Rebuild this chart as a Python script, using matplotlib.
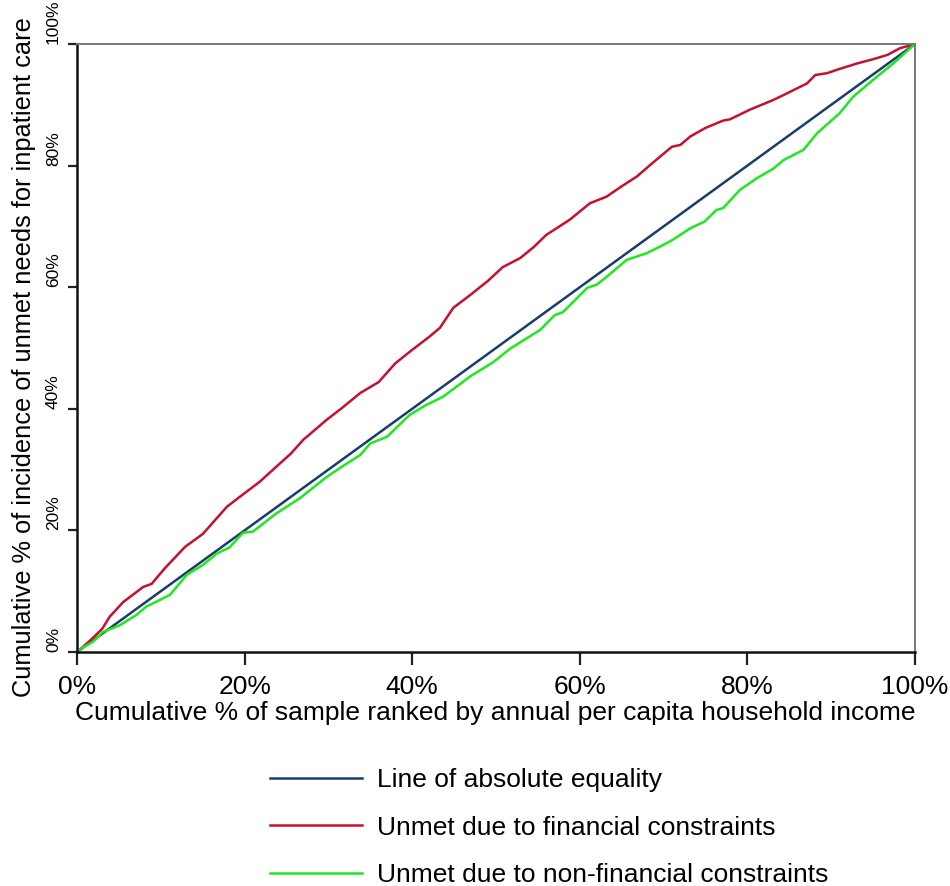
import matplotlib
matplotlib.use("Agg")
import matplotlib.pyplot as plt
from matplotlib.ticker import FuncFormatter

# Equality line
eq_x = [0, 100]
eq_y = [0, 100]

# Unmet due to financial constraints (concentration curve)
fin_x = [0, 1.5, 3.0, 3.9, 5.5, 7.9, 8.9, 10.5, 12.9, 15.0, 17.9, 19.5, 21.8, 23.8, 25.5,
         27.0, 29.8, 31.5, 33.8, 36.0, 38.0, 40.0, 42.0, 43.3, 44.9, 47.0, 49.0, 50.8,
         52.9, 54.5, 56.0, 58.8, 61.2, 63.2, 65.0, 66.8, 68.4, 69.6, 71.0, 72.0, 73.2,
         75.0, 77.1, 77.9, 80.3, 83.1, 84.3, 87.1, 88.1, 89.5, 91.0, 93.1, 95.0, 96.7,
         98.2, 100]
fin_y = [0, 1.8, 3.8, 5.8, 8.2, 10.7, 11.2, 13.8, 17.3, 19.4, 23.9, 25.6, 28.0, 30.5, 32.6,
         34.9, 38.2, 40.0, 42.6, 44.4, 47.5, 49.7, 51.8, 53.3, 56.6, 58.8, 61.0, 63.3,
         64.8, 66.6, 68.6, 71.1, 73.8, 74.9, 76.6, 78.2, 80.1, 81.5, 83.1, 83.4, 84.8,
         86.2, 87.4, 87.6, 89.2, 90.8, 91.6, 93.5, 94.9, 95.2, 95.9, 96.8, 97.5, 98.2,
         99.3, 100]

# Unmet due to non-financial constraints
nf_x = [0, 0.4, 1.9, 3.1, 5.1, 7.1, 8.3, 9.5, 11.1, 13.1, 15.0, 16.7, 18.2, 19.8, 21.0,
        23.8, 26.6, 29.8, 32.2, 33.8, 35.0, 37.0, 39.7, 41.5, 43.7, 46.9, 49.7, 51.7,
        55.3, 57.0, 58.0, 60.9, 62.0, 63.2, 65.6, 68.0, 69.6, 71.1, 73.2, 74.9, 76.3,
        77.1, 79.1, 81.1, 83.1, 84.3, 86.7, 88.3, 91.0, 92.6, 95.0, 97.4, 100]
nf_y = [0, 0.5, 1.7, 3.3, 4.4, 6.1, 7.5, 8.3, 9.4, 12.7, 14.3, 16.2, 17.2, 19.6, 19.8,
        22.8, 25.3, 28.8, 31.0, 32.4, 34.3, 35.4, 39.0, 40.5, 42.0, 45.3, 47.7, 49.9,
        53.0, 55.4, 55.9, 59.9, 60.4, 61.7, 64.5, 65.6, 66.7, 67.8, 69.7, 70.8, 72.7,
        73.0, 76.0, 77.9, 79.5, 80.9, 82.6, 85.3, 88.6, 91.3, 94.1, 96.8, 100]

ticks = [0, 20, 40, 60, 80, 100]
labels = ["Line of absolute equality",
          "Unmet due to financial constraints",
          "Unmet due to non-financial constraints"]
colors = ["#1a3d6b", "#c8102e", "#1ee81e"]

plt.rcParams['font.family'] = ['Liberation Sans', 'DejaVu Sans']

fig = plt.figure(figsize=(9.5, 8.86), dpi=100)
ax = fig.add_axes([77/950, 1 - 652/886, (915-77)/950, (652-44)/886])

l1, = ax.plot(eq_x, eq_y, color=colors[0], lw=1.8)
l2, = ax.plot(fin_x, fin_y, color=colors[1], lw=1.8)
l3, = ax.plot(nf_x, nf_y, color=colors[2], lw=1.8)

ax.set_xlim(0, 100)
ax.set_ylim(0, 100)
ax.set_xticks(ticks)
ax.set_yticks(ticks)
fmt = FuncFormatter(lambda v, p: f"{int(v)}%")
ax.xaxis.set_major_formatter(fmt)
ax.yaxis.set_major_formatter(fmt)
ax.tick_params(axis='x', direction='out', length=9.5, width=1.6, color='#222222',
               labelsize=19, pad=7)
ax.tick_params(axis='y', direction='out', length=6.5, width=1.6, color='#222222',
               labelsize=12.5, pad=5)
for lab in ax.get_yticklabels():
    lab.set_rotation(90)
    lab.set_va('bottom')

for s in ['left', 'bottom']:
    ax.spines[s].set_color('#111111')
    ax.spines[s].set_linewidth(1.8)
for s in ['top', 'right']:
    ax.spines[s].set_color('#777777')
    ax.spines[s].set_linewidth(1.4)

ax.set_xlabel("Cumulative % of sample ranked by annual per capita household income",
              fontsize=19)
ax.xaxis.set_label_coords(0.499, -0.080)
ax.set_ylabel("Cumulative % of incidence of unmet needs for inpatient care",
              fontsize=18.3, va='center')
ax.yaxis.set_label_coords(-0.063, 0.485)

fig.legend([l1, l2, l3], labels, loc='upper left',
           bbox_to_anchor=(246/950, 1 - 744/886), frameon=False,
           fontsize=19, handlelength=3.48, handletextpad=0.6, labelspacing=0.9)

fig.savefig("out.png", dpi=100)
